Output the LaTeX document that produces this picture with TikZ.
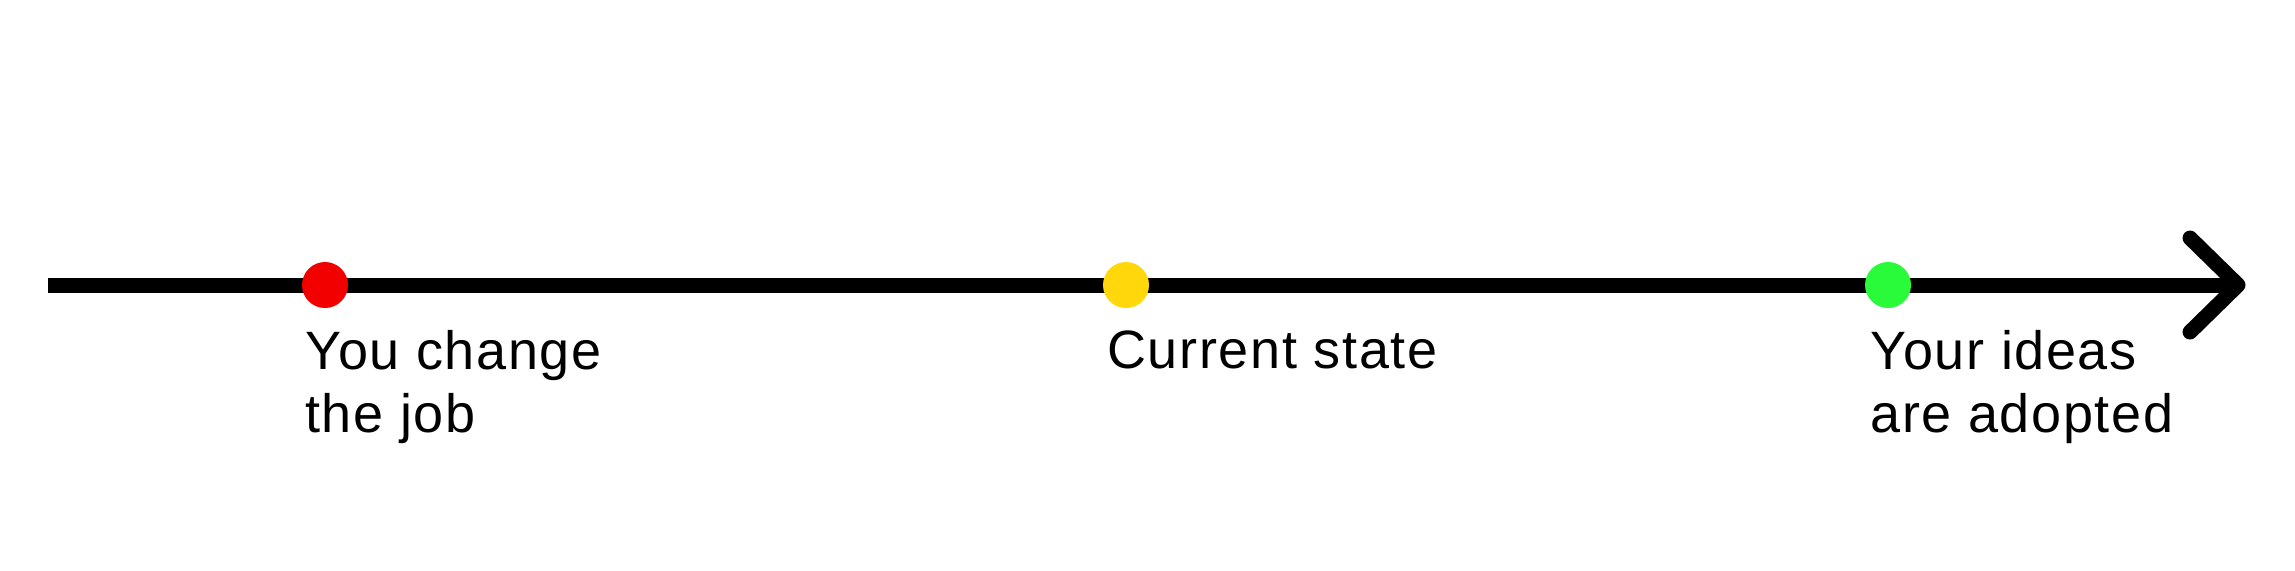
\documentclass[tikz,border=0pt]{standalone}
\usepackage{fontspec}
\setmainfont{Liberation Sans}[LetterSpace=3]

\definecolor{dotred}{RGB}{242,0,0}
\definecolor{dotyellow}{RGB}{255,215,10}
\definecolor{dotgreen}{RGB}{41,250,57}

\tikzset{
	axis/.style={line width=7.5pt},
	dot/.style={circle, minimum size=23pt, inner sep=0pt},
	caption/.style={anchor=north west, inner sep=0pt, align=left, font=\fontsize{27}{31.5}\selectfont},
}

\begin{document}
\begin{tikzpicture}[x=0.5pt, y=-0.5pt]
	\useasboundingbox (0, 0) rectangle (2295, 570);
	
	\coordinate (start) at (48, 285);
	\coordinate (tip) at (2238, 285);
	
	\draw[axis] (start) -- (tip);
	\draw[axis, line cap=round, line join=round] ([shift={(-48, -47)}]tip) -- (tip) -- ([shift={(-48, 47)}]tip);
	
	\node[dot, fill=dotred] (changed) at (325, 285) {};
	\node[dot, fill=dotyellow] (current) at (1126, 285) {};
	\node[dot, fill=dotgreen] (adopted) at (1888, 285) {};
	
	\node[caption] (changedtext) at ([shift={(-20, 45)}]changed.center) {You change\\the job};
	\node[caption] (currenttext) at ([shift={(-19, 45)}]current.center) {Current state};
	\node[caption] (adoptedtext) at ([shift={(-18, 45)}]adopted.center) {Your ideas\\are adopted};
\end{tikzpicture}
\end{document}
